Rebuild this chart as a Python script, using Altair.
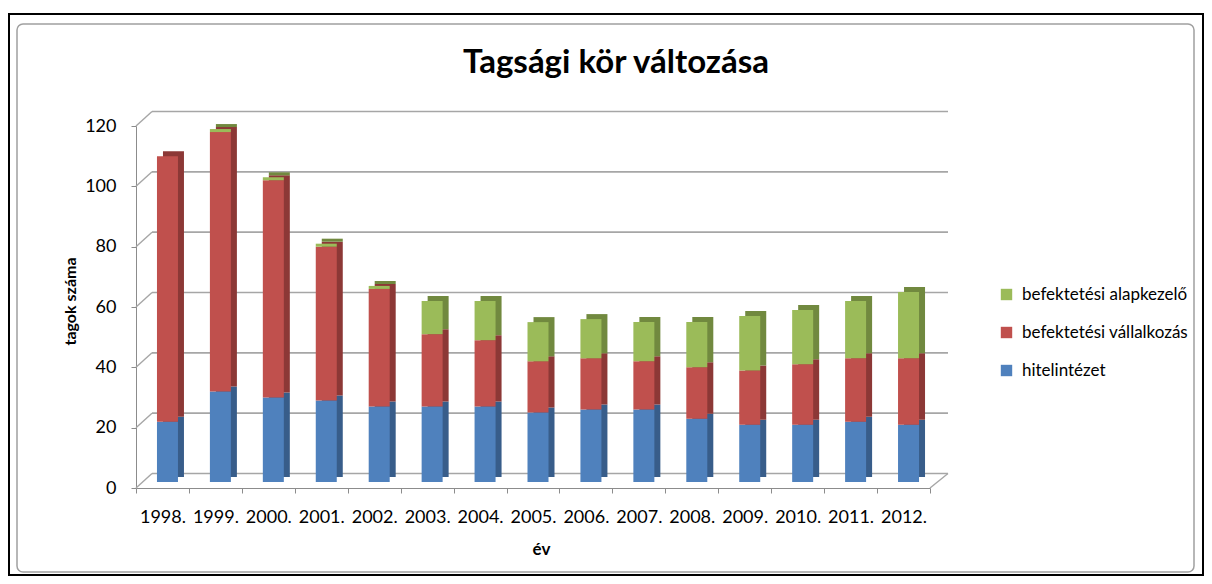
import altair as alt
import pandas as pd

# ---------------- data ----------------
years = ["1998.", "1999.", "2000.", "2001.", "2002.", "2003.", "2004.", "2005.",
         "2006.", "2007.", "2008.", "2009.", "2010.", "2011.", "2012."]
series = ["befektetési alapkezelő", "befektetési vállalkozás", "hitelintézet"]
hitelintezet = [20, 30, 28, 27, 25, 25, 25, 23, 24, 24, 21, 19, 19, 20, 19]
vallalkozas = [88, 86, 72, 51, 39, 24, 22, 17, 17, 16, 17, 18, 20, 21, 22]
alapkezelo = [0, 1, 1, 1, 1, 11, 13, 13, 13, 13, 15, 18, 18, 19, 22]
y_ticks = [0, 20, 40, 60, 80, 100, 120]

front_colors = ["#9BBB59", "#C0504D", "#4F81BD"]
side_colors = ["#71893F", "#8C3836", "#385D8A"]

rows = []
for i, yr in enumerate(years):
    for name, vals, rank in [(series[2], hitelintezet, 0),
                             (series[1], vallalkozas, 1),
                             (series[0], alapkezelo, 2)]:
        rows.append({"ev": yr, "sor": name, "ertek": vals[i], "rend": rank})
df = pd.DataFrame(rows)
grid_df = pd.DataFrame({"v": y_ticks})
one = alt.InlineData(values=[{"k": 1}])

# ---------------- layout ----------------
W, H = 794, 362
PAD_L, PAD_T = 128, 118
DEPTH_X, DEPTH_Y = 16, -14.5
FONT = "Lato"
GRID = "#A6A6A6"
AXC = "#8C8C8C"

y_scale = alt.Scale(domain=[0, 120], nice=False, zero=True)
y_axis = alt.Axis(values=y_ticks, grid=False, domainColor=AXC, tickColor=AXC,
                  tickSize=5, labelFont=FONT, labelFontSize=18, labelColor="black",
                  labelPadding=15, title="tagok száma", titleFont=FONT,
                  titleFontSize=16, titleFontWeight="bold", titleColor="black",
                  titleAngle=270, titleAlign="center", titleBaseline="middle",
                  titleX=-66, titleY=175)
x_axis = alt.Axis(labelAngle=0, tickBand="extent", domainColor=AXC, tickColor=AXC,
                  tickSize=5, labelFont=FONT, labelFontSize=18, labelColor="black",
                  labelPadding=15, title="év", titleFont=FONT, titleFontSize=17,
                  titleFontWeight="bold", titleColor="black", titleAlign="center",
                  titleBaseline="middle", titleX=405, titleY=61)
x_enc = alt.X("ev:N", sort=years, scale=alt.Scale(paddingInner=0, paddingOuter=0),
              axis=x_axis)

# outer frames
outer = alt.Chart(one).mark_rect(filled=False, stroke="black", strokeWidth=2).encode(
    x=alt.value(-127), x2=alt.value(1067), y=alt.value(-112), y2=alt.value(449))
inner = alt.Chart(one).mark_rect(filled=False, stroke="#A0A0A0", strokeWidth=1.5,
                                 cornerRadius=6).encode(
    x=alt.value(-119), x2=alt.value(1058), y=alt.value(-102), y2=alt.value(446))

# title as text
title = alt.Chart(one).mark_text(text="Tagsági kör változása", font=FONT, fontSize=33,
                                 fontWeight="bold", color="black", align="center",
                                 baseline="alphabetic").encode(
    x=alt.value(480), y=alt.value(-53))

# back wall gridlines
back_grid = alt.Chart(grid_df).mark_rule(color=GRID, strokeWidth=1.6,
                                         yOffset=DEPTH_Y).encode(
    x=alt.value(DEPTH_X), x2=alt.value(W + 18),
    y=alt.Y("v:Q", scale=y_scale, axis=y_axis))
# side wall diagonals
diag = alt.Chart(grid_df).mark_rule(color=GRID, strokeWidth=1.4,
                                    y2Offset=DEPTH_Y).encode(
    x=alt.value(0), x2=alt.value(DEPTH_X),
    y=alt.Y("v:Q", scale=y_scale, axis=y_axis), y2="v:Q")
# floor right edge
floor_r = alt.Chart(one).mark_rule(color=GRID, strokeWidth=1.4,
                                   y2Offset=DEPTH_Y).encode(
    x=alt.value(W), x2=alt.value(W + 18),
    y=alt.Y(datum=0, scale=y_scale, axis=y_axis), y2=alt.Y2(datum=0))

order = alt.Order("rend:Q", sort="ascending")
side = alt.Chart(df).mark_bar(size=21, xOffset=11, yOffset=-11, y2Offset=-11).encode(
    x=x_enc,
    y=alt.Y("ertek:Q", stack="zero", scale=y_scale, axis=y_axis),
    color=alt.Color("sor:N", scale=alt.Scale(domain=series, range=side_colors),
                    legend=None),
    order=order)
front = alt.Chart(df).mark_bar(size=21, xOffset=5, yOffset=-6, y2Offset=-6).encode(
    x=x_enc,
    y=alt.Y("ertek:Q", stack="zero", scale=y_scale, axis=y_axis),
    color=alt.Color("sor:N", scale=alt.Scale(domain=series, range=front_colors),
                    legend=alt.Legend(title=None, orient="none", legendX=862,
                                      legendY=160, symbolType="square",
                                      symbolSize=130, symbolStrokeWidth=0,
                                      labelFont=FONT, labelFontSize=17,
                                      labelColor="black", rowPadding=20,
                                      labelOffset=7, padding=0, labelLimit=400)),
    order=order)

chart = alt.layer(outer, inner, title, back_grid, diag, floor_r, side, front).resolve_scale(
    color="independent"
).properties(
    width=W, height=H,
    padding={"left": PAD_L, "top": PAD_T, "right": 1196 - PAD_L - W,
             "bottom": 568 - PAD_T - H},
    autosize=alt.AutoSizeParams(type="none"),
    background="white",
).configure_view(stroke=None)

chart.save("out.html", embed_options={"renderer": "svg", "actions": False})
